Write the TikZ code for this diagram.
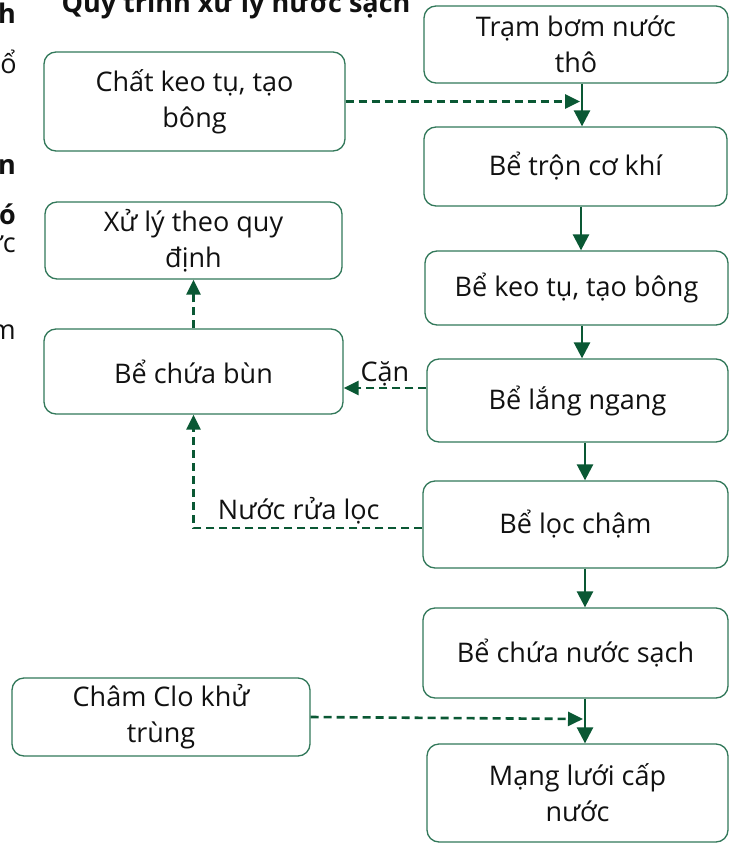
\documentclass[tikz,border=0pt]{standalone}
\usepackage{fontspec}
\setmainfont{Open Sans}
\usetikzlibrary{arrows.meta}
\definecolor{arr}{RGB}{10,88,52}
\definecolor{bord}{RGB}{50,120,90}
\definecolor{ink}{RGB}{17,17,17}
\begin{document}
\begin{tikzpicture}[x=1pt,y=-1pt,
 box/.style={draw=bord, line width=1.3pt, rounded corners=12pt, align=center,
   font=\fontsize{27}{36}\selectfont, inner sep=0pt, text=ink},
 lbl/.style={font=\fontsize{27}{32}\selectfont, text=ink, inner sep=1pt},
 frag/.style={font=\fontsize{27}{32}\selectfont, text=ink, anchor=base east, inner sep=0pt},
 solidarrow/.style={draw=arr, line width=2.6pt, -{Triangle[length=16pt,width=16pt]}},
 dasharrow/.style={draw=arr, line width=2.6pt, dash pattern=on 8pt off 5pt, -{Triangle[length=15pt,width=14pt]}},
]
\useasboundingbox (0,0) rectangle (731,843);
\clip (0,0) rectangle (731,843);
\fill[white] (0,0) rectangle (731,843);

% title and cut-off fragments
\node[font=\bfseries\fontsize{27}{32}\selectfont, text=ink, anchor=base, inner sep=0pt] (title) at (236,13) {Quy trình xử lý nước sạch};
\node[frag, font=\bfseries\fontsize{27}{32}\selectfont] (f1) at (16,24) {h};
\node[frag] (f2) at (17,74) {ổ};
\node[frag, font=\bfseries\fontsize{27}{32}\selectfont] (f3) at (16,174) {n};
\node[frag, font=\bfseries\fontsize{27}{32}\selectfont] (f4) at (16,224) {ó};
\node[frag] (f5) at (16,252) {ức};
\node[frag] (f6) at (16,339) {m};

% main column
\node[box, minimum width=304pt, minimum height=77pt] (B1) at (576,44.5) {Trạm bơm nước\\thô};
\node[box, minimum width=303pt, minimum height=79pt] (B2) at (575.5,166.5) {Bể trộn cơ khí};
\node[box, minimum width=303pt, minimum height=74pt] (B3) at (576.5,288) {Bể keo tụ, tạo bông};
\node[box, minimum width=301pt, minimum height=83pt] (B4) at (577.5,400.5) {Bể lắng ngang};
\node[box, minimum width=305pt, minimum height=87pt] (B5) at (575.5,524.5) {Bể lọc chậm};
\node[box, minimum width=305pt, minimum height=90pt] (B6) at (575.5,653) {Bể chứa nước sạch};
\node[box, minimum width=301pt, minimum height=98pt] (B7) at (577.5,793) {Mạng lưới cấp\\nước};

% left column
\node[box, minimum width=301pt, minimum height=99pt] (L1) at (194.5,101.5) {Chất keo tụ, tạo\\bông};
\node[box, minimum width=297pt, minimum height=77pt] (L2) at (193.5,240.5) {Xử lý theo quy\\định};
\node[box, minimum width=299pt, minimum height=85pt] (L3) at (193.5,371.5) {Bể chứa bùn};
\node[box, minimum width=298pt, minimum height=78pt] (L4) at (161,717) {Châm Clo khử\\trùng};

% junction points on the main line
\coordinate (j1) at (580,101.5);
\coordinate (j2) at (583,719);

% solid flow
\draw[solidarrow] ([xshift=6pt]B1.south) -- ([xshift=6pt]B1.south |- B2.north);
\draw[solidarrow] ([xshift=5.5pt]B2.south) -- ([xshift=5.5pt]B2.south |- B3.north);
\draw[solidarrow] ([xshift=5.5pt]B3.south) -- ([xshift=5.5pt]B3.south |- B4.north);
\draw[solidarrow] ([xshift=7.5pt]B4.south) -- ([xshift=7.5pt]B4.south |- B5.north);
\draw[solidarrow] ([xshift=9.5pt]B5.south) -- ([xshift=9.5pt]B5.south |- B6.north);
\draw[solidarrow] ([xshift=9.5pt]B6.south) -- ([xshift=9.5pt]B6.south |- B7.north);

% dashed inputs
\draw[dasharrow] (L1.east) -- (j1);
\draw[dasharrow] (L4.east) -- (j2);

% sludge
\draw[dasharrow] ([yshift=12.5pt]B4.west) -- ([yshift=12.5pt]B4.west -| L3.east)
  node[lbl, midway, above=0pt] (lc) {Cặn};
\draw[dasharrow] ([yshift=-3.5pt]B5.west) -| (L3.south)
  node[lbl, pos=0.27, above=2pt] (lr) {Nước rửa lọc};
\draw[dasharrow] (L3.north) -- (L2.south);
\end{tikzpicture}
\end{document}
